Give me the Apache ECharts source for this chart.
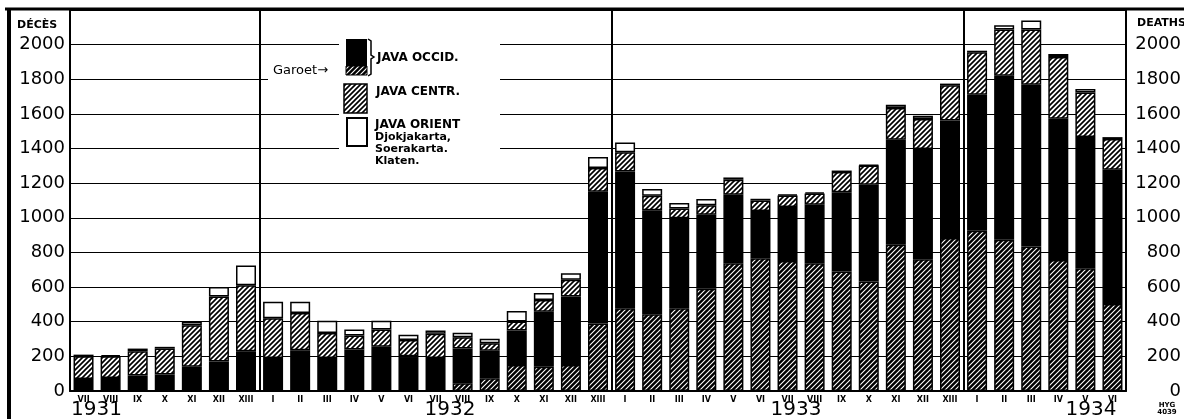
<!DOCTYPE html>
<html>
<head>
<meta charset="utf-8">
<script src="https://cdn.jsdelivr.net/npm/echarts@6/dist/echarts.min.js"></script>
<style>
html,body{margin:0;padding:0;background:#fff;}
#chart{width:1184px;height:419px;}
</style>
</head>
<body>
<div id="chart"></div>
<script>
// ---- data ----
const years = ['1931','1931','1931','1931','1931','1931','1931',
  '1932','1932','1932','1932','1932','1932','1932','1932','1932','1932','1932','1932','1932',
  '1933','1933','1933','1933','1933','1933','1933','1933','1933','1933','1933','1933','1933',
  '1934','1934','1934','1934','1934','1934'];
const months = ['VII','VIII','IX','X','XI','XII','XIII',
  'I','II','III','IV','V','VI','VII','VIII','IX','X','XI','XII','XIII',
  'I','II','III','IV','V','VI','VII','VIII','IX','X','XI','XII','XIII',
  'I','II','III','IV','V','VI'];
const garoet = [0,0,0,0,0,0,0,
  0,0,0,5,5,5,5,45,73,150,140,150,390,
  478,443,478,590,738,767,751,738,690,632,844,761,883,
  925,873,834,757,709,503];
const javaOccid = [70,75,90,95,140,170,230,
  190,235,190,235,250,195,185,200,160,200,318,395,760,
  790,600,520,427,395,273,311,337,458,559,607,636,679,
  786,948,935,815,757,774];
const javaCentr = [130,125,140,150,240,375,380,
  230,215,145,80,100,95,140,65,43,52,68,97,138,
  110,85,56,56,87,60,67,65,116,111,183,173,203,
  245,266,318,356,258,178];
const javaOrient = [10,8,15,10,20,55,115,
  95,65,70,35,50,30,20,27,25,60,40,38,63,
  57,39,31,35,13,10,6,8,9,4,19,20,10,
  9,25,53,18,20,11];
const yearLabels = ['1931','1932','1933','1934'];
const categories = months.map((m,i)=>years[i]+'-'+m);

// ---- patterns ----
function makeHatch(bg, fg, lw, n){
  const c=document.createElement('canvas'); c.width=n; c.height=n;
  const g=c.getContext('2d');
  g.fillStyle=bg; g.fillRect(0,0,n,n);
  g.strokeStyle=fg; g.lineWidth=lw; g.lineCap='square';
  g.beginPath();
  g.moveTo(0,n); g.lineTo(n,0);
  g.moveTo(-1,1); g.lineTo(1,-1);
  g.moveTo(n-1,n+1); g.lineTo(n+1,n-1);
  g.stroke();
  return {image:c, repeat:'repeat'};
}
const garoetFill = makeHatch('#000','#fff',1.1,5);
const centrFill = makeHatch('#fff','#000',1.7,5);

const FONT = '"DejaVu Sans", sans-serif';
const chart = echarts.init(document.getElementById('chart'), null, {renderer:'canvas'});

function barSeries(name, data, color){
  return {
    name, type:'bar', stack:'total', data, barWidth:20,
    itemStyle:{color, borderColor:'#000', borderWidth:1.5},
    emphasis:{disabled:true}, animation:false
  };
}
const plain = v => String(v);

const option = {
  animation:false,
  backgroundColor:'#fff',
  grid:{left:70, right:51, top:10, bottom:28},
  xAxis:{
    type:'category', data:categories,
    axisLine:{lineStyle:{color:'#000', width:2}},
    axisTick:{show:false},
    axisLabel:{interval:0, formatter:v=>v.split('-')[1], fontSize:8, fontWeight:'bold',
      color:'#000', margin:5, fontFamily:FONT},
    splitLine:{show:true, interval:(i)=> i===7||i===20||i===33, lineStyle:{color:'#000', width:2}}
  },
  yAxis:[{
    type:'value', min:0, max:2200, interval:200, position:'left',
    axisLine:{show:true, lineStyle:{color:'#000', width:2}},
    axisTick:{show:false},
    axisLabel:{fontSize:18, color:'#000', margin:5, showMaxLabel:false, fontFamily:FONT, formatter:plain},
    splitLine:{show:true, lineStyle:{color:'#000', width:1}}
  },{
    type:'value', min:0, max:2200, interval:200, position:'right',
    axisLine:{show:true, lineStyle:{color:'#000', width:2}},
    axisTick:{show:false},
    axisLabel:{fontSize:18, color:'#000', margin:55, align:'right', showMaxLabel:false, fontFamily:FONT, formatter:plain},
    splitLine:{show:false}
  }],
  series:[
    barSeries('Garoet', garoet, garoetFill),
    barSeries('JAVA OCCID.', javaOccid, '#000'),
    barSeries('JAVA CENTR.', javaCentr, centrFill),
    barSeries('JAVA ORIENT', javaOrient, '#fff')
  ],
  graphic:[
    // frame
    {type:'line', z:100, shape:{x1:5,y1:9,x2:1184,y2:9}, style:{stroke:'#000', lineWidth:3}},
    {type:'line', z:100, shape:{x1:9,y1:8,x2:9,y2:419}, style:{stroke:'#000', lineWidth:4}},
    // axis titles
    {type:'text', z:100, style:{text:'DÉCÈS', x:17, y:25, font:'bold 11px '+FONT, fill:'#000', textVerticalAlign:'middle'}},
    {type:'text', z:100, style:{text:'DEATHS', x:1137, y:23, font:'bold 11px '+FONT, fill:'#000', textVerticalAlign:'middle'}},
    // year labels
    {type:'text', z:100, style:{text:yearLabels[0], x:71, y:410, font:'20px '+FONT, fill:'#000', textVerticalAlign:'middle'}},
    {type:'text', z:100, style:{text:yearLabels[1], x:450, y:410, font:'20px '+FONT, fill:'#000', textAlign:'center', textVerticalAlign:'middle'}},
    {type:'text', z:100, style:{text:yearLabels[2], x:796, y:410, font:'20px '+FONT, fill:'#000', textAlign:'center', textVerticalAlign:'middle'}},
    {type:'text', z:100, style:{text:yearLabels[3], x:1091, y:410, font:'20px '+FONT, fill:'#000', textAlign:'center', textVerticalAlign:'middle'}},
    {type:'text', z:100, style:{text:'HYG', x:1167, y:405, font:'bold 7px '+FONT, fill:'#000', textAlign:'center', textVerticalAlign:'middle'}},
    {type:'text', z:100, style:{text:'4039', x:1167, y:412, font:'bold 7px '+FONT, fill:'#000', textAlign:'center', textVerticalAlign:'middle'}},
    // legend masks
    {type:'rect', z:90, shape:{x:339,y:30,width:161,height:142}, style:{fill:'#fff'}},
    {type:'rect', z:90, shape:{x:268,y:63,width:72,height:19}, style:{fill:'#fff'}},
    // legend swatches
    {type:'rect', z:100, shape:{x:346,y:39,width:21,height:27}, style:{fill:'#000'}},
    {type:'rect', z:100, shape:{x:346,y:66,width:21,height:9}, style:{fill:garoetFill, stroke:'#000', lineWidth:1}},
    {type:'polyline', z:100, shape:{points:[[368,39],[371,41],[371,55],[374,57],[371,59],[371,74],[368,76]]}, style:{stroke:'#000', lineWidth:1.5, fill:null}},
    {type:'text', z:100, style:{text:'JAVA OCCID.', x:377, y:58, font:'bold 12px '+FONT, fill:'#000', textVerticalAlign:'middle'}},
    {type:'text', z:100, style:{text:'Garoet→', x:273, y:71, font:'13px '+FONT, fill:'#000', textVerticalAlign:'middle'}},
    {type:'rect', z:100, shape:{x:344,y:84,width:23,height:29}, style:{fill:centrFill, stroke:'#000', lineWidth:1.5}},
    {type:'text', z:100, style:{text:'JAVA CENTR.', x:376, y:92, font:'bold 12px '+FONT, fill:'#000', textVerticalAlign:'middle'}},
    {type:'rect', z:100, shape:{x:347,y:118,width:20,height:28}, style:{fill:'#fff', stroke:'#000', lineWidth:2}},
    {type:'text', z:100, style:{text:'JAVA ORIENT', x:375, y:125, font:'bold 12px '+FONT, fill:'#000', textVerticalAlign:'middle'}},
    {type:'text', z:100, style:{text:'Djokjakarta,', x:375, y:137.5, font:'bold 11px '+FONT, fill:'#000', textVerticalAlign:'middle'}},
    {type:'text', z:100, style:{text:'Soerakarta.', x:375, y:149.5, font:'bold 11px '+FONT, fill:'#000', textVerticalAlign:'middle'}},
    {type:'text', z:100, style:{text:'Klaten.', x:375, y:161.5, font:'bold 11px '+FONT, fill:'#000', textVerticalAlign:'middle'}}
  ]
};
chart.setOption(option);
</script>
</body>
</html>
